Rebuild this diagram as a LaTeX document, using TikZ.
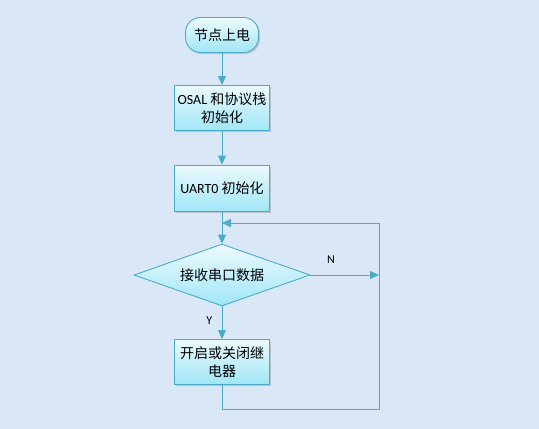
\documentclass[tikz,border=0pt]{standalone}
\usepackage{fontspec}
\setmainfont{Carlito}
\newfontfamily\cjk{Noto Sans CJK SC}
\usetikzlibrary{shapes.geometric,arrows.meta,shadows}
\definecolor{bgc}{RGB}{218,231,246}
\definecolor{edge}{RGB}{75,172,198}
\definecolor{topc}{RGB}{236,250,253}
\definecolor{botc}{RGB}{160,230,247}
\tikzset{
  flowbox/.style={draw=edge, line width=0.9pt, top color=topc, bottom color=botc,
    minimum width=95pt, minimum height=45pt, align=center, inner sep=2pt,
    font=\fontsize{14}{18}\selectfont, drop shadow={shadow xshift=1.5pt,shadow yshift=-1.5pt,opacity=0.35}},
  term/.style={flowbox, rounded corners=15pt, minimum width=73pt, minimum height=35pt},
  decide/.style={diamond, draw=edge, line width=0.9pt, top color=topc, bottom color=botc,
    aspect=2.84, inner sep=0pt, minimum width=176pt, minimum height=62pt,
    font=\fontsize{14}{18}\selectfont},
  conn/.style={draw=edge, line width=0.9pt},
  arr/.style={conn, -{Triangle[length=9pt,width=8pt]}},
  lbl/.style={font=\fontsize{12}{14}\selectfont}
}
\begin{document}
\begin{tikzpicture}[x=1pt,y=-1pt]
\fill[bgc] (0,0) rectangle (539,429);
\useasboundingbox (0,0) rectangle (539,429);
\node[term] (start) at (222,35) {\cjk 节点上电};
\node[flowbox] (osal) at (222,108) {OSAL {\cjk 和协议栈}\\{\cjk 初始化}};
\node[flowbox, minimum height=46pt] (uart) at (222,188) {UART0 {\cjk 初始化}};
\node[decide] (dec) at (222,275) {\cjk 接收串口数据};
\node[flowbox] (relay) at (222,362) {\cjk 开启或关闭继\\\cjk 电器};
\coordinate (loopin) at (222,223);
\coordinate (rt) at (379,223);
\coordinate (rm) at (379,275);
\coordinate (rb) at (379,409);
\coordinate (bb) at (222,409);
\draw[arr] (start) -- (osal);
\draw[arr] (osal) -- (uart);
\draw[arr] (uart) -- (dec);
\draw[arr] (dec) -- node[lbl, left=6pt, pos=0.45] {Y} (relay);
\draw[arr] (dec.east) -- node[lbl, above=8pt, pos=0.3] {N} (rm);
\draw[conn] (relay.south) -- (bb) -- (rb) -- (rt);
\draw[arr] (rt) -- (loopin);
\end{tikzpicture}
\end{document}
